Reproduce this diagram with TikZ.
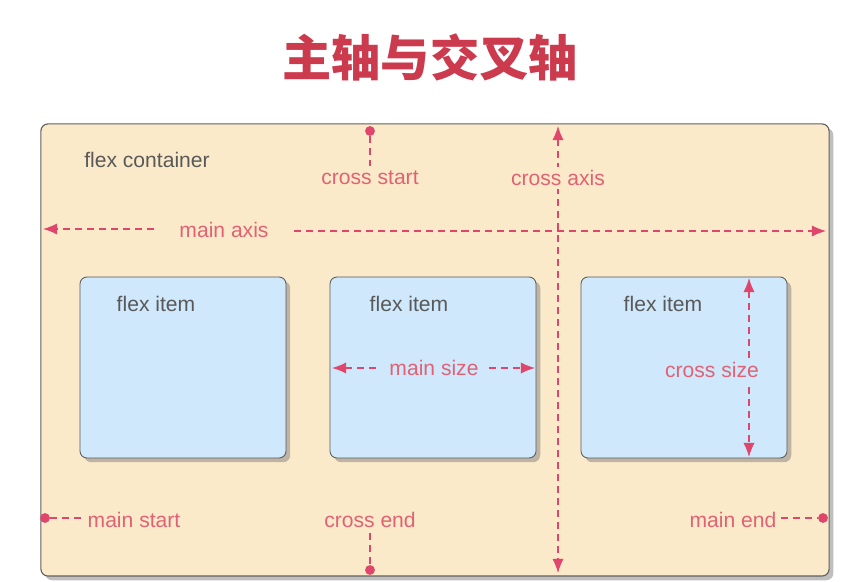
\documentclass[tikz,border=0pt]{standalone}
\usepackage{fontspec}
\setmainfont{Liberation Sans}
\newfontfamily\cjk{Noto Sans CJK SC}
\usetikzlibrary{shapes,arrows.meta,positioning,calc,shadows}

\definecolor{titlered}{HTML}{CC3A4E}
\definecolor{axisred}{HTML}{E0466C}
\definecolor{labelred}{HTML}{E06274}
\definecolor{boxbeige}{HTML}{FBEACA}
\definecolor{itemblue}{HTML}{CFE8FC}
\definecolor{textgray}{HTML}{595959}

\tikzset{
  panel/.style={rectangle,rounded corners=5pt,draw=gray!75!black,line width=0.8pt,fill=boxbeige,
    minimum width=19.7cm,minimum height=11.3cm,
    drop shadow={shadow xshift=3pt,shadow yshift=-3pt,opacity=0.5}},
  itembox/.style={rectangle,rounded corners=5pt,draw=gray!70!black,line width=0.6pt,fill=itemblue,
    minimum width=5.15cm,minimum height=4.525cm,
    drop shadow={shadow xshift=3pt,shadow yshift=-3pt,opacity=0.5}},
  graytext/.style={text=textgray,font=\fontsize{15}{18}\selectfont},
  axislabel/.style={text=labelred,font=\fontsize{15}{18}\selectfont},
  axisline/.style={draw=axisred,line width=1pt,dash pattern=on 5pt off 3.5pt},
  enddot/.style={circle,fill=axisred,inner sep=0pt,minimum size=7pt},
  onetip/.style={-{Latex[length=10pt,width=8pt]}},
  twotips/.style={{Latex[length=10pt,width=8pt]}-{Latex[length=10pt,width=8pt]}}
}

\begin{document}
\begin{tikzpicture}[x=0.025cm,y=-0.025cm]
    \useasboundingbox (0,0) rectangle (848,582);

    % Title
    \node[text=titlered,font=\cjk\bfseries\fontsize{35}{40}\selectfont] (title) at (430,57) {主轴与交叉轴};

    % Container and items
    \node[panel] (container) at (435,350) {};
    \node[graytext] (containerlabel) at (147,160) {flex container};

    \node[itembox] (item1) at (183,367.5) {};
    \node[itembox] (item2) at (433,367.5) {};
    \node[itembox] (item3) at (684,367.5) {};
    \node[graytext] (itemlabel1) at (156,304) {flex item};
    \node[graytext] (itemlabel2) at (409,304) {flex item};
    \node[graytext] (itemlabel3) at (663,304) {flex item};

    % Main axis
    \coordinate (maleft) at (43,229);
    \coordinate (maright) at (826,231);
    \node[axislabel,inner xsep=18pt] (mainaxis) at (224,230) {main axis};
    \draw[axisline,onetip] (mainaxis.west |- 0,229) -- (maleft);
    \draw[axisline,onetip] (mainaxis.east |- 0,231) -- (maright);

    % Cross axis
    \coordinate (catop) at (558,126);
    \coordinate (cabot) at (558,573);
    \draw[axisline,twotips] (catop) -- (cabot);
    \node[axislabel,fill=boxbeige,inner xsep=1pt,inner ysep=2pt] (crossaxis) at (558,178) {cross axis};

    % Cross start / cross end
    \node[enddot] (csdot) at (370,131) {};
    \node[axislabel] (crossstart) at (370,178) {cross start};
    \draw[axisline] (csdot) -- (crossstart);
    \node[enddot] (cedot) at (370,570) {};
    \node[axislabel] (crossend) at (370,520) {cross end};
    \draw[axisline] (crossend) -- (cedot);

    % Main start / main end
    \node[enddot] (msdot) at (45,518) {};
    \node[axislabel] (mainstart) at (134,520) {main start};
    \draw[axisline] (msdot) -- (mainstart.west |- msdot);
    \node[enddot] (medot) at (823,518) {};
    \node[axislabel] (mainend) at (733,520) {main end};
    \draw[axisline] (mainend.east |- medot) -- (medot);

    % Main size
    \coordinate (msleft) at (332,368);
    \coordinate (msright) at (535,368);
    \draw[axisline,twotips] (msleft) -- (msright);
    \node[axislabel,fill=itemblue,inner xsep=7pt,inner ysep=1pt] (mainsize) at (434,368) {main size};

    % Cross size
    \coordinate (cstop) at (749,278);
    \coordinate (csbot) at (749,457);
    \draw[axisline,twotips] (cstop) -- (csbot);
    \node[axislabel,fill=itemblue,inner xsep=1pt,inner ysep=3pt] (crosssize) at (712,370) {cross size};
\end{tikzpicture}
\end{document}
